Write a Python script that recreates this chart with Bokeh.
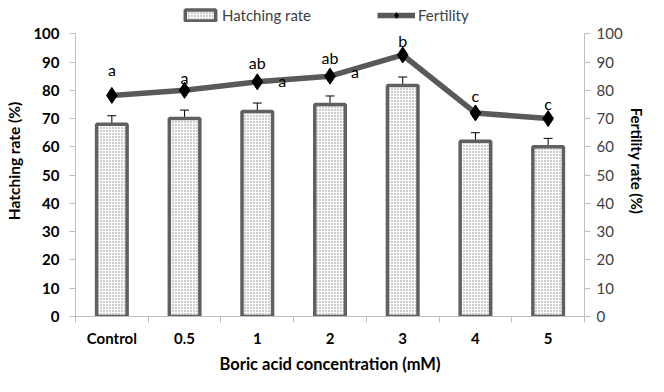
import numpy as np
from bokeh.plotting import figure
from bokeh.models import (ColumnDataSource, Range1d, LinearAxis, FixedTicker, Whisker,
                          Legend, LegendItem, TeeHead, LabelSet)
from bokeh.core.properties import value
from bokeh.embed import file_html
from bokeh.resources import INLINE

categories = ["Control", "0.5", "1", "2", "3", "4", "5"]
hatching = [68, 70, 72.5, 75, 81.7, 62, 60]
hatching_err = [3, 3, 3, 3, 3, 3, 3]
fertility = [78.2, 80, 83, 85, 92.5, 72, 70]
letters_top = ["a", "a", "ab", "ab", "b", "c", "c"]
letters_top_y = [87.4, 84.4, 89.8, 91.5, 97.6, 78.2, 75.2]
letters_side = ["a", "a"]
letters_side_x = [2, 3]          # category index the letter belongs to
letters_side_y = [83.3, 86.7]
y_ticks = [0, 10, 20, 30, 40, 50, 60, 70, 80, 90, 100]

FONT = "Lato"
x = np.arange(len(categories)) + 0.5
src = ColumnDataSource(dict(
    x=x, cat=categories, h=hatching,
    lo=np.array(hatching) - np.array(hatching_err),
    hi=np.array(hatching) + np.array(hatching_err),
    f=fertility, lt=letters_top, ly=letters_top_y,
))
side_src = ColumnDataSource(dict(x=np.array(letters_side_x) + 0.5, y=letters_side_y,
                                 t=letters_side))

# the frame reaches above 100 so that the legend (drawn inside the frame) is not clipped
p = figure(width=648, height=376, output_backend="svg", toolbar_location=None,
           x_range=Range1d(0, len(categories)), y_range=Range1d(0, 110),
           min_border_left=75, min_border_right=58, min_border_top=5, min_border_bottom=58)
p.outline_line_color = None
p.grid.grid_line_color = None
p.background_fill_color = "white"

bars = p.vbar(x="x", top="h", width=0.42, source=src, fill_color="white",
              line_color="#606060", line_width=3.5,
              hatch_pattern="dot", hatch_color="#808080", hatch_scale=3, hatch_weight=1)

wh = Whisker(base="x", lower="lo", upper="hi", source=src, line_color="black", line_width=1,
             upper_head=TeeHead(size=9, line_color="black", line_width=1),
             lower_head=TeeHead(size=9, line_color="black", line_width=1))
p.add_layout(wh)

ln = p.line("x", "f", source=src, line_color="#595959", line_width=5.5)
mk = p.scatter("x", "f", source=src, marker="diamond", size=16, fill_color="black",
               line_color="black")

p.add_layout(LabelSet(x="x", y="ly", text="lt", source=src, text_align="center",
                      text_baseline="middle", text_font=value(FONT), text_font_size="16px",
                      text_color="black"))
p.add_layout(LabelSet(x="x", y="y", text="t", source=side_src, x_offset=25,
                      text_align="center", text_baseline="middle", text_font=value(FONT),
                      text_font_size="16px", text_color="black"))

# x axis
xa = p.xaxis[0]
xa.ticker = FixedTicker(ticks=list(x), minor_ticks=list(range(len(categories) + 1)))
xa.major_label_overrides = {float(v): c for v, c in zip(x, categories)}
xa.major_tick_out = 0
xa.major_tick_in = 0
xa.minor_tick_out = 6
xa.minor_tick_in = 0
xa.minor_tick_line_color = "#bfbfbf"
xa.axis_line_color = "#bfbfbf"
xa.major_label_text_font = FONT
xa.major_label_text_font_style = "bold"
xa.major_label_text_font_size = "15px"
xa.major_label_text_color = "black"
xa.major_label_standoff = 6
xa.axis_label = "Boric acid concentration (mM)"
xa.axis_label_text_font = FONT
xa.axis_label_text_font_style = "bold"
xa.axis_label_text_font_size = "16.5px"
xa.axis_label_text_color = "black"
xa.axis_label_standoff = 4

ya = p.yaxis[0]
ya.ticker = FixedTicker(ticks=y_ticks)
ya.bounds = (y_ticks[0], y_ticks[-1])
ya.minor_tick_line_color = None
ya.major_tick_out = 6
ya.major_tick_in = 0
ya.axis_line_color = "#bfbfbf"
ya.major_tick_line_color = "#bfbfbf"
ya.major_label_text_font = FONT
ya.major_label_text_font_style = "bold"
ya.major_label_text_font_size = "15px"
ya.major_label_text_color = "black"
ya.major_label_standoff = 10
ya.axis_label = "Hatching rate (%)"
ya.axis_label_text_font = FONT
ya.axis_label_text_font_style = "bold"
ya.axis_label_text_font_size = "15.5px"
ya.axis_label_text_color = "black"
ya.axis_label_standoff = 7

ra = LinearAxis(ticker=FixedTicker(ticks=y_ticks), bounds=(y_ticks[0], y_ticks[-1]))
ra.minor_tick_line_color = None
ra.major_tick_out = 6
ra.major_tick_in = 0
ra.axis_line_color = "#bfbfbf"
ra.major_tick_line_color = "#bfbfbf"
ra.major_label_text_font = FONT
ra.major_label_text_font_size = "15px"
ra.major_label_text_color = "#404040"
ra.major_label_standoff = 6
ra.axis_label = "Fertility rate (%)"
ra.axis_label_text_font = FONT
ra.axis_label_text_font_style = "bold"
ra.axis_label_text_font_size = "15px"
ra.axis_label_text_color = "black"
ra.axis_label_standoff = 2
p.add_layout(ra, "right")

legend = Legend(items=[LegendItem(label="Hatching rate", renderers=[bars]),
                       LegendItem(label="Fertility", renderers=[ln, mk])],
                orientation="horizontal", location=(106, 292),
                label_text_font=FONT, label_text_font_size="15px", label_text_color="#404040",
                glyph_width=38, glyph_height=14, label_height=16, label_standoff=3, spacing=66,
                padding=0, margin=0, border_line_color=None, background_fill_alpha=0)
p.add_layout(legend, "center")

open("out.html", "w").write(file_html(p, INLINE))
